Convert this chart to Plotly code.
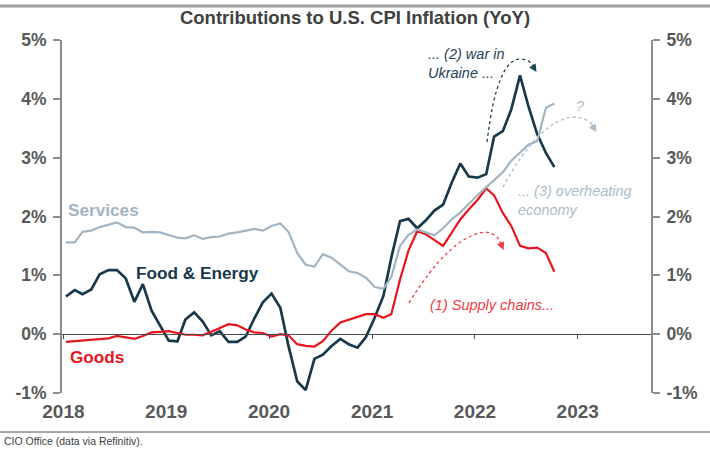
import pandas as pd
import plotly.graph_objects as go

# ---------------- data ----------------
start_month = "2018-01-01"
n_months = 58
services = [1.56, 1.56, 1.74, 1.76, 1.82, 1.86, 1.90, 1.82, 1.81, 1.73, 1.74, 1.73,
            1.68, 1.64, 1.63, 1.68, 1.62, 1.65, 1.66, 1.71, 1.73, 1.76, 1.79, 1.76,
            1.84, 1.88, 1.74, 1.38, 1.18, 1.15, 1.36, 1.30, 1.18, 1.07, 1.04, 0.96,
            0.80, 0.77, 0.97, 1.50, 1.69, 1.78, 1.73, 1.68, 1.80, 1.95, 2.07, 2.22,
            2.36, 2.50, 2.62, 2.75, 2.95, 3.08, 3.22, 3.28, 3.85, 3.92]
food_energy = [0.64, 0.75, 0.68, 0.76, 1.02, 1.09, 1.09, 0.95, 0.55, 0.85, 0.40, 0.15,
               -0.11, -0.12, 0.25, 0.37, 0.22, -0.02, 0.05, -0.13, -0.13, -0.04, 0.27, 0.54,
               0.69, 0.45, -0.20, -0.80, -0.95, -0.42, -0.35, -0.20, -0.08, -0.17, -0.23, -0.05,
               0.28, 0.65, 1.30, 1.92, 1.96, 1.80, 1.93, 2.10, 2.20, 2.57, 2.90, 2.68,
               2.66, 2.72, 3.36, 3.45, 3.82, 4.40, 3.87, 3.40, 3.08, 2.84]
goods = [-0.13, -0.12, -0.10, -0.09, -0.08, -0.07, -0.03, -0.05, -0.08, -0.03, 0.03, 0.04,
         0.05, 0.02, -0.01, -0.01, -0.02, 0.04, 0.10, 0.17, 0.15, 0.08, 0.03, 0.02,
         -0.04, 0.00, -0.02, -0.17, -0.20, -0.21, -0.12, 0.06, 0.20, 0.25, 0.30, 0.34,
         0.34, 0.28, 0.34, 0.93, 1.42, 1.75, 1.70, 1.60, 1.50, 1.72, 1.95, 2.12,
         2.28, 2.48, 2.36, 2.06, 1.84, 1.50, 1.46, 1.47, 1.38, 1.06]
year_ticks = ["2018", "2019", "2020", "2021", "2022", "2023"]
y_ticks = [-1, 0, 1, 2, 3, 4, 5]
y_tick_labels = ["-1%", "0%", "1%", "2%", "3%", "4%", "5%"]

dates = pd.date_range(start_month, periods=n_months, freq="MS") + pd.Timedelta(days=9)
year_dates = [f"{y}-01-01" for y in year_ticks]

# ---------------- style ----------------
C_SERV = "#A2B4C2"
C_FE = "#17394A"
C_GOODS = "#E8141E"
C_AXIS = "#8C8C8C"
C_TICKTXT = "#595959"
FONT = "Liberation Sans"

W, H = 710, 450
ML, MR, MT, MB = 62, 59, 40, 57
PW, PH = W - ML - MR, H - MT - MB


def px(x):
    return (x - ML) / PW


def py(y):
    return (H - MB - y) / PH


xrange_ = ["2017-12-27", "2023-09-18"]

fig = go.Figure()
fig.add_trace(go.Scatter(x=dates, y=services, mode="lines", xaxis="x2", yaxis="y",
                         line=dict(color=C_SERV, width=2.2), name="Services"))
fig.add_trace(go.Scatter(x=dates, y=goods, mode="lines", xaxis="x", yaxis="y2",
                         line=dict(color=C_GOODS, width=2.2), name="Goods"))
fig.add_trace(go.Scatter(x=dates, y=food_energy, mode="lines", xaxis="x", yaxis="y",
                         line=dict(color=C_FE, width=2.7), name="Food & Energy"))

tickfont = dict(family=FONT, size=17.5, color=C_TICKTXT, weight="bold")
yax = dict(range=[-1, 5], tickvals=y_ticks, ticktext=y_tick_labels, showgrid=False,
           zeroline=False, showline=True, linecolor=C_AXIS, linewidth=2,
           ticks="outside", ticklen=7, tickwidth=1.5, tickcolor=C_AXIS, tickfont=tickfont,
           ticklabelstandoff=3, fixedrange=True)

fig.update_layout(
    width=W, height=H,
    margin=dict(l=ML, r=MR, t=MT, b=MB),
    paper_bgcolor="white", plot_bgcolor="white",
    showlegend=False,
    title=dict(text="Contributions to U.S. CPI Inflation (YoY)", x=0.5, xanchor="center",
               y=1 - 18 / H, yanchor="middle",
               font=dict(family=FONT, size=18.5, color="#404040", weight="bold")),
    xaxis=dict(type="date", range=xrange_, tickvals=year_dates, ticktext=year_ticks,
               showgrid=False, zeroline=False, showline=False, ticks="",
               tickfont=dict(family=FONT, size=19, color=C_TICKTXT, weight="bold"),
               ticklabelstandoff=5, fixedrange=True),
    xaxis2=dict(type="date", range=xrange_, overlaying="x", anchor="free",
                position=(0 - (-1)) / 6, tickvals=year_dates, showticklabels=False,
                showgrid=False, zeroline=False, showline=True, linecolor="#4D4D4D",
                linewidth=1, ticks="outside", ticklen=4, tickcolor="#4D4D4D", fixedrange=True),
    yaxis=dict(side="left", anchor="x", **yax),
    yaxis2=dict(side="right", overlaying="y", anchor="x", **yax),
)

# ---------------- decorations ----------------
fig.add_shape(type="line", xref="paper", yref="paper", x0=px(0), x1=px(W), y0=py(6), y1=py(6),
              line=dict(color="#A0A0A0", width=3))
fig.add_shape(type="line", xref="paper", yref="paper", x0=px(0), x1=px(W), y0=py(432), y1=py(432),
              line=dict(color="#A6A6A6", width=2))

fig.add_annotation(text="CIO Office (data via Refinitiv).", xref="paper", yref="paper",
                   x=px(2), y=py(441), xanchor="left", yanchor="middle", showarrow=False,
                   font=dict(family=FONT, size=10.5, color="#404040"))

lab = dict(xref="paper", yref="paper", xanchor="left", yanchor="middle", showarrow=False)
fig.add_annotation(text="Services", x=px(66), y=py(210),
                   font=dict(family=FONT, size=17.2, color=C_SERV, weight="bold"), **lab)
fig.add_annotation(text="Food & Energy", x=px(134), y=py(273),
                   font=dict(family=FONT, size=17.2, color=C_FE, weight="bold"), **lab)
fig.add_annotation(text="Goods", x=px(68), y=py(357),
                   font=dict(family=FONT, size=17.2, color=C_GOODS, weight="bold"), **lab)

fig.add_annotation(text="... (2) war in<br>Ukraine ...", x=px(426), y=py(63),
                   font=dict(family=FONT, size=14.5, color="#1F4257", style="italic"),
                   align="left", **lab)
fig.add_annotation(text="... (3) overheating<br>economy", x=px(516), y=py(200),
                   font=dict(family=FONT, size=14.5, color="#A9BCC9", style="italic"),
                   align="left", **lab)
fig.add_annotation(text="?", x=px(574), y=py(106),
                   font=dict(family=FONT, size=14.5, color="#A9BCC9", style="italic"), **lab)
fig.add_annotation(text="(1) Supply chains...", x=px(428), y=py(305),
                   font=dict(family=FONT, size=14.5, color="#EE3A43", style="italic"), **lab)


def path(points):
    (x0, y0), rest = points[0], points[1:]
    s = f"M {px(x0):.4f},{py(y0):.4f}"
    for i in range(0, len(rest), 2):
        (cx, cy), (ex, ey) = rest[i], rest[i + 1]
        s += f" Q {px(cx):.4f},{py(cy):.4f} {px(ex):.4f},{py(ey):.4f}"
    return s


arrows = [
    ([(487, 142), (497, 58), (521, 59), (531, 60), (535, 68)], "#1F4257", (530, 60)),
    ([(503, 187), (538, 122), (572, 117), (588, 117), (595, 128)], "#A9BCC9", (589, 119)),
    ([(409, 303), (450, 236), (485, 232), (498, 233), (502, 246)], "#EE3A43", (498, 236)),
]
for pts, col, prev in arrows:
    fig.add_shape(type="path", xref="paper", yref="paper", path=path(pts),
                  line=dict(color=col, width=1.3, dash="dot"))
    ex, ey = pts[-1]
    fig.add_annotation(x=px(ex + 1.5), y=py(ey + 4), xref="paper", yref="paper", text="",
                       showarrow=True, arrowhead=2, arrowsize=1.1, arrowwidth=1.4,
                       arrowcolor=col, ax=prev[0] - ex, ay=prev[1] - ey, standoff=0)

fig.write_html("out.html", config={"displayModeBar": False},
               post_script="document.body.style.margin='0';document.body.style.overflow='hidden';")
